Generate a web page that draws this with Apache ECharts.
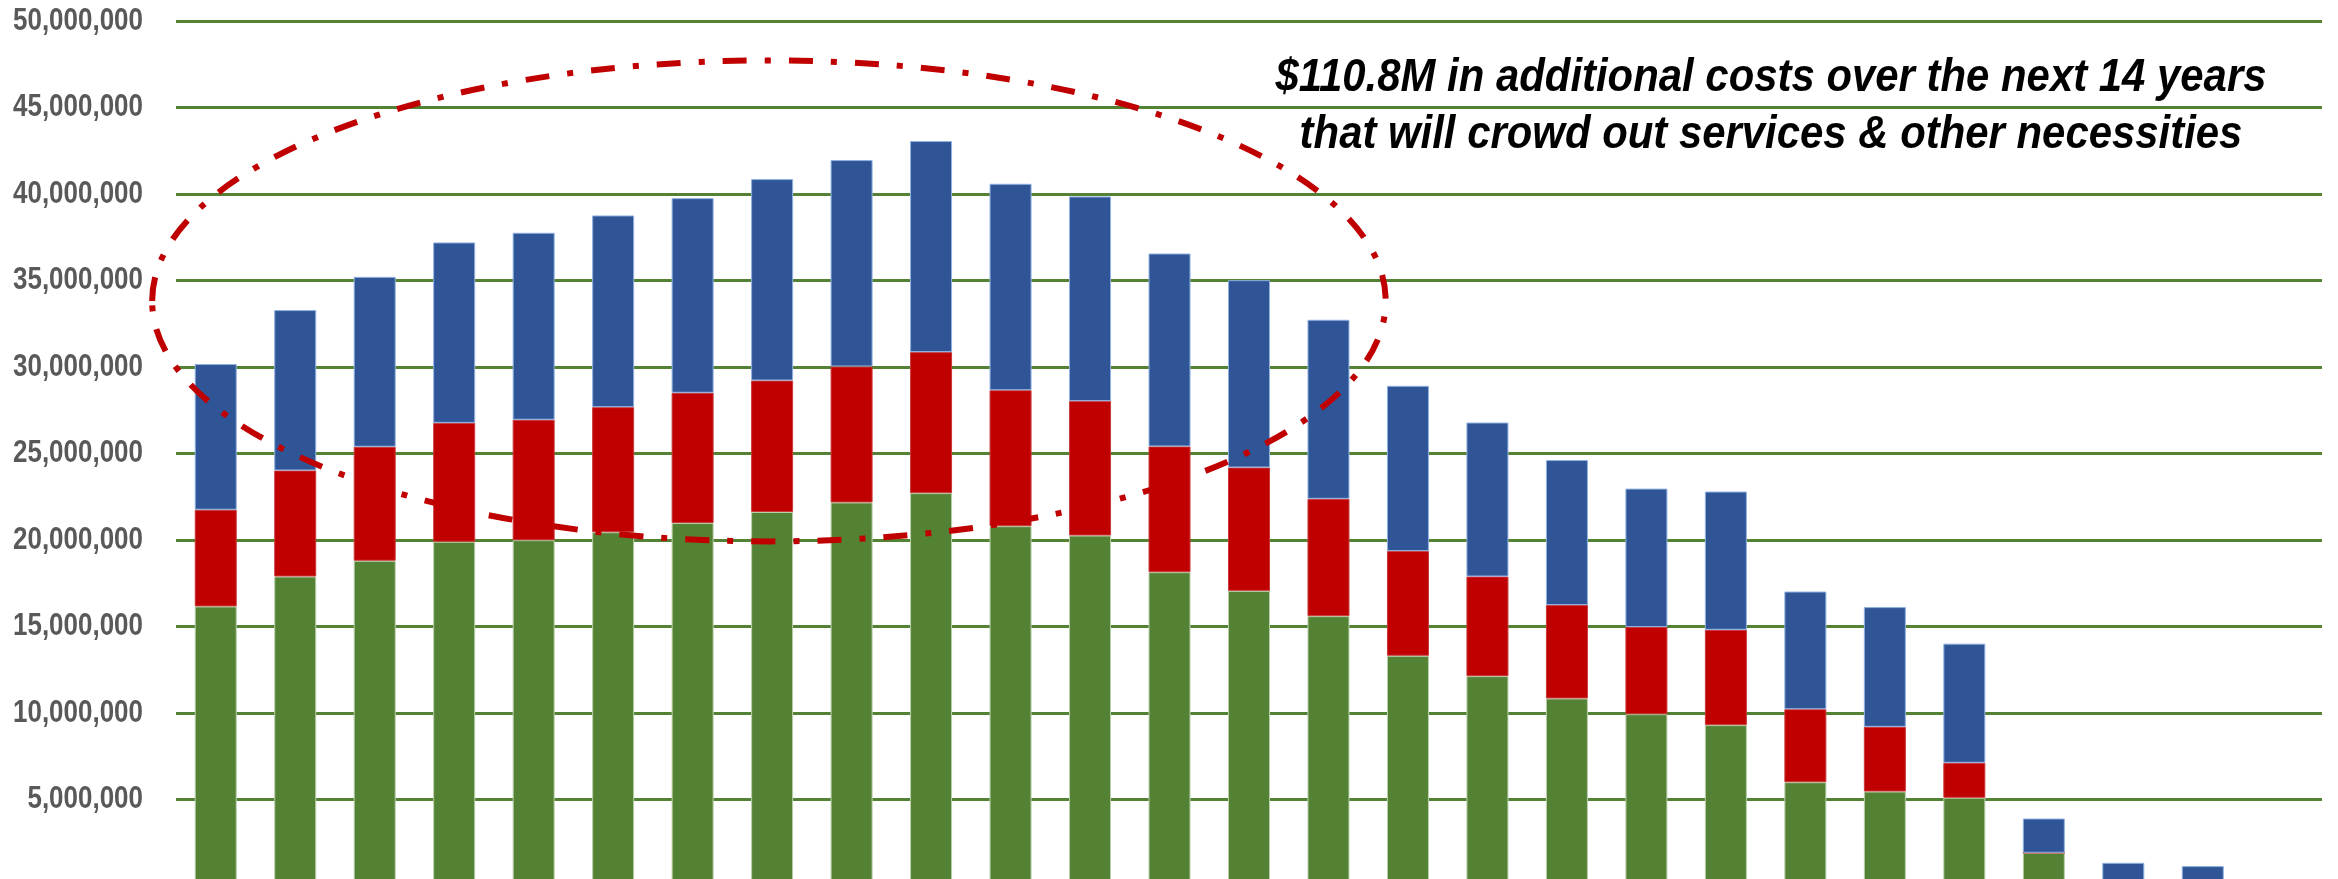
<!DOCTYPE html>
<html>
<head>
<meta charset="utf-8">
<script src="https://cdn.jsdelivr.net/npm/echarts@6/dist/echarts.min.js"></script>
<style>
  html, body { margin: 0; padding: 0; background: #ffffff; }
  #chart { width: 2338px; height: 879px; }
</style>
</head>
<body>
<div id="chart"></div>
<script>
// ---- Data (values in dollars) ----
const categories = ['1','2','3','4','5','6','7','8','9','10','11','12','13','14','15','16','17','18','19','20','21','22','23','24','25','26','27'];

// bottom segment (green)
const greenValues = [16.16e6, 17.89e6, 18.80e6, 19.90e6, 19.99e6, 20.45e6, 20.98e6, 21.62e6, 22.17e6, 22.71e6,
                     20.80e6, 20.26e6, 18.14e6, 17.06e6, 15.60e6, 13.31e6, 12.13e6, 10.84e6, 9.93e6, 9.30e6,
                     6.00e6, 5.46e6, 5.10e6, 1.92e6, 0, 0, null];
// middle segment (red)
const redValues = [5.59e6, 6.13e6, 6.59e6, 6.87e6, 6.96e6, 7.23e6, 7.53e6, 7.60e6, 7.86e6, 8.15e6,
                   7.86e6, 7.77e6, 7.27e6, 7.13e6, 6.78e6, 6.05e6, 5.76e6, 5.40e6, 5.04e6, 5.51e6,
                   4.22e6, 3.74e6, 2.02e6, 0, 0, 0, null];
// top segment (blue)
const blueValues = [8.42e6, 9.27e6, 9.82e6, 10.43e6, 10.81e6, 11.08e6, 11.25e6, 11.64e6, 11.93e6, 12.20e6,
                    11.93e6, 11.83e6, 11.15e6, 10.83e6, 10.35e6, 9.55e6, 8.90e6, 8.38e6, 8.00e6, 7.99e6,
                    6.80e6, 6.92e6, 6.89e6, 1.98e6, 1.34e6, 1.15e6, null];

const yTickValues = [5e6, 10e6, 15e6, 20e6, 25e6, 30e6, 35e6, 40e6, 45e6, 50e6];
const yTicks = { min: 0, max: 50e6, interval: 5e6 };

const annotationLines = [
  '$110.8M in additional costs over the next 14 years',
  'that will crowd out services & other necessities'
];

// Ellipse in data terms: centre (category index, value), half-width (in categories), half-height (value)
const ellipseCenterIndex = 6.96;
const ellipseCenterValue = 33.82e6;
const ellipseHalfWidthCats = 7.76;
const ellipseHalfHeightValue = 13.9e6;

// ---- Chart ----
const chart = echarts.init(document.getElementById('chart'), null, { renderer: 'canvas' });

const SANS = '"Liberation Sans", Arial, sans-serif';
const LABEL_FONT = 'bold 32px ' + SANS;
const NOTE_FONT = 'italic bold 46px ' + SANS;

function fmt(v) {
  return String(Math.round(v)).replace(/\B(?=(\d{3})+(?!\d))/g, ',');
}

// measure text to get a condensed look (reference uses a narrow face)
const mctx = document.createElement('canvas').getContext('2d');
function measure(font, text) { mctx.font = font; return mctx.measureText(text).width; }
const labelScale = 130 / measure(LABEL_FONT, fmt(50e6));
const noteScale = 991 / measure(NOTE_FONT, annotationLines[0]);

const barCommon = { type: 'bar', stack: 'total', barWidth: 42, animation: false };

chart.setOption({
  backgroundColor: '#ffffff',
  animation: false,
  grid: { left: 176, right: 16, top: 21, bottom: -7, containLabel: false, outerBoundsMode: 'none' },
  xAxis: {
    type: 'category',
    data: categories,
    axisLine: { show: false },
    axisTick: { show: false },
    axisLabel: { show: false },
    splitLine: { show: false }
  },
  yAxis: {
    type: 'value',
    min: yTicks.min,
    max: yTicks.max,
    interval: yTicks.interval,
    axisLine: { show: false },
    axisTick: { show: false },
    axisLabel: { show: false },
    splitLine: { show: true, lineStyle: { color: '#548235', width: 3 } }
  },
  series: [
    Object.assign({}, barCommon, {
      name: 'Green', data: greenValues,
      itemStyle: { color: '#548235', borderColor: '#b9cfaa', borderWidth: 1 }
    }),
    Object.assign({}, barCommon, {
      name: 'Red', data: redValues,
      itemStyle: { color: '#C00000', borderColor: '#c83a3a', borderWidth: 1 }
    }),
    Object.assign({}, barCommon, {
      name: 'Blue', data: blueValues,
      itemStyle: { color: '#2F5597', borderColor: '#8fb0e0', borderWidth: 1 }
    })
  ]
});

// Annotation ellipse computed via axis scales
const p0 = chart.convertToPixel({ xAxisIndex: 0, yAxisIndex: 0 }, [0, ellipseCenterValue]);
const p1 = chart.convertToPixel({ xAxisIndex: 0, yAxisIndex: 0 }, [1, ellipseCenterValue]);
const pTop = chart.convertToPixel({ xAxisIndex: 0, yAxisIndex: 0 }, [0, ellipseCenterValue + ellipseHalfHeightValue]);
const band = p1[0] - p0[0];
const cx = p0[0] + ellipseCenterIndex * band;
const cy = p0[1];
const rx = ellipseHalfWidthCats * band;
const ry = cy - pTop[1];

// y-axis tick labels (condensed), placed through the value axis
const gridLeftPx = chart.convertToPixel({ xAxisIndex: 0, yAxisIndex: 0 }, [0, 0])[0] - band / 2;
const labelGraphics = yTickValues.map(function (v) {
  const py = chart.convertToPixel({ yAxisIndex: 0 }, v);
  return {
    type: 'text',
    silent: true,
    z: 50,
    x: gridLeftPx - 33,
    y: py,
    scaleX: labelScale,
    style: {
      text: fmt(v),
      fill: '#595959',
      font: LABEL_FONT,
      align: 'right',
      verticalAlign: 'middle'
    }
  };
});

chart.setOption({
  graphic: labelGraphics.concat([
    {
      type: 'ellipse',
      z: 100,
      silent: true,
      shape: { cx: cx, cy: cy, rx: rx, ry: ry },
      style: {
        fill: null,
        stroke: '#C00000',
        lineWidth: 6,
        lineDash: [24, 18, 6, 18]
      }
    },
    {
      type: 'text',
      z: 101,
      silent: true,
      x: 1771,
      y: 50,
      scaleX: noteScale,
      style: {
        text: annotationLines.join('\n'),
        fill: '#000000',
        font: NOTE_FONT,
        lineHeight: 57,
        align: 'center',
        verticalAlign: 'top'
      }
    }
  ])
});
</script>
</body>
</html>
